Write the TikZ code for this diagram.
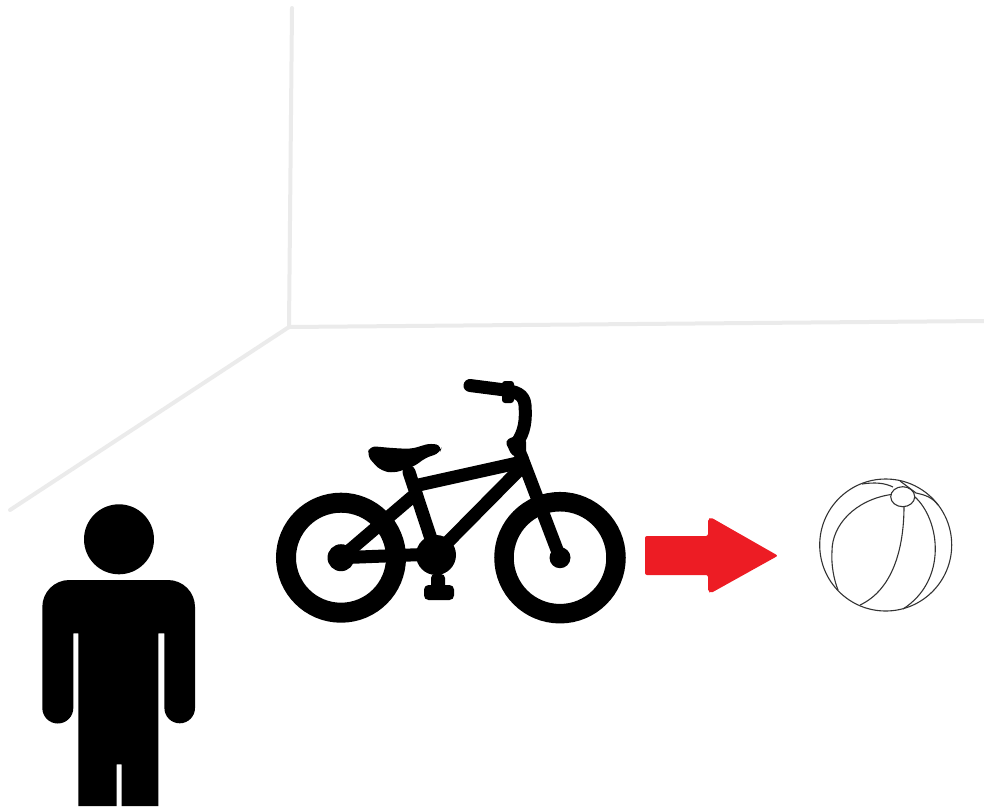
\documentclass[tikz,border=0pt]{standalone}
\tikzset{
  wall/.style={draw=black!8,line width=4pt,line cap=round},
  bar/.style={draw=black,line width=13pt,line cap=round,line join=round},
  blackfill/.style={fill=black},
  ballline/.style={draw=black!80,line width=1.1pt}
}
\begin{document}
\begin{tikzpicture}[x=1pt,y=-1pt]
\useasboundingbox (0,0) rectangle (984,806);
% room
\coordinate (corner) at (289,327);
\coordinate (wallTop) at (292,8);
\coordinate (wallRight) at (984,321);
\coordinate (wallLeft) at (10,510);
\draw[wall] (corner) -- (wallTop);
\draw[wall] (corner) -- (wallRight);
\draw[wall] (corner) -- (wallLeft);
% person
\fill[blackfill] (119,539.3) circle (35);
\fill[blackfill] (42.3,607) arc[start angle=180,end angle=270,radius=27] -- (168,580) arc[start angle=270,end angle=360,radius=27]
  -- (195,708) arc[start angle=0,end angle=180,radius=15.3] -- (164.4,633.3) -- (158.3,633.3) -- (158.3,806)
  -- (121.7,806) -- (121.7,764.3) -- (116.7,764.3) -- (116.7,806) -- (78.3,806) -- (78.3,633.3) -- (73.3,633.3)
  -- (73.3,708) arc[start angle=0,end angle=180,radius=15.5] -- cycle;
% bicycle
\draw[black,line width=20pt] (341,557.7) circle (55);
\draw[black,line width=19.5pt] (560,557.7) circle (56);
\fill[blackfill] (341,557.7) circle (13.5);
\fill[blackfill] (560,557.7) circle (10.5);
\fill[blackfill] (436,555) circle (20);
\draw[bar] (341,557.7) -- (436,554);
\draw[bar] (341,557.7) -- (412,497);
\draw[bar] (409,472) -- (436,554);
\draw[bar] (414,486) -- (522,462);
\draw[bar] (523,466) -- (436,554);
\draw[bar] (522,458) -- (560,557.7);
\draw[bar] (522,458) -- (516,444) .. controls (525,432) and (526,420) .. (525,405) .. controls (524,394) and (516,392) .. (505,390) -- (470,385.5);
\fill[blackfill,rounded corners=3pt] (502,381) rectangle (514,403);
\fill[blackfill,rounded corners=4pt] (505,441) -- (514,436) -- (526,438) -- (526,458) -- (512,456) -- cycle;
\fill[blackfill,rounded corners=4pt] (431,574) rectangle (445,590);
\fill[blackfill,rounded corners=4.5pt] (424,585) rectangle (454,600);
\fill[blackfill,rounded corners=6pt] (367,455) -- (370,446) -- (392,448) -- (411,449) -- (431,443) -- (442,446) -- (440,453)
  -- (425,458) -- (415,466) -- (394,473) -- (382,471) -- (374,464) -- cycle;
% arrow
\fill[fill={rgb,255:red,237;green,28;blue,36},rounded corners=2pt] (645,536) -- (708,536) -- (708,519) -- (711,517.5)
  -- (778,555.7) -- (711,593) -- (708,591.5) -- (708,575) -- (645,575) -- cycle;
% ball
\draw[ballline] (885.7,545) circle (66);
\draw[ballline] (902.7,496.7) ellipse (12 and 10);
\draw[ballline] (891,494.5) .. controls (855,500) and (832,525) .. (832,551) .. controls (831,565) and (834,580) .. (838,590);
\draw[ballline] (904,506) .. controls (904,550) and (892,590) .. (860,605);
\draw[ballline] (915,497) .. controls (940,520) and (948,580) .. (903,609);
\draw[ballline] (893,487) .. controls (885,483) and (875,482) .. (862,484);
\draw[ballline] (900,481) -- (916,493) .. controls (925,495) and (932,497) .. (938,505);
\end{tikzpicture}
\end{document}
